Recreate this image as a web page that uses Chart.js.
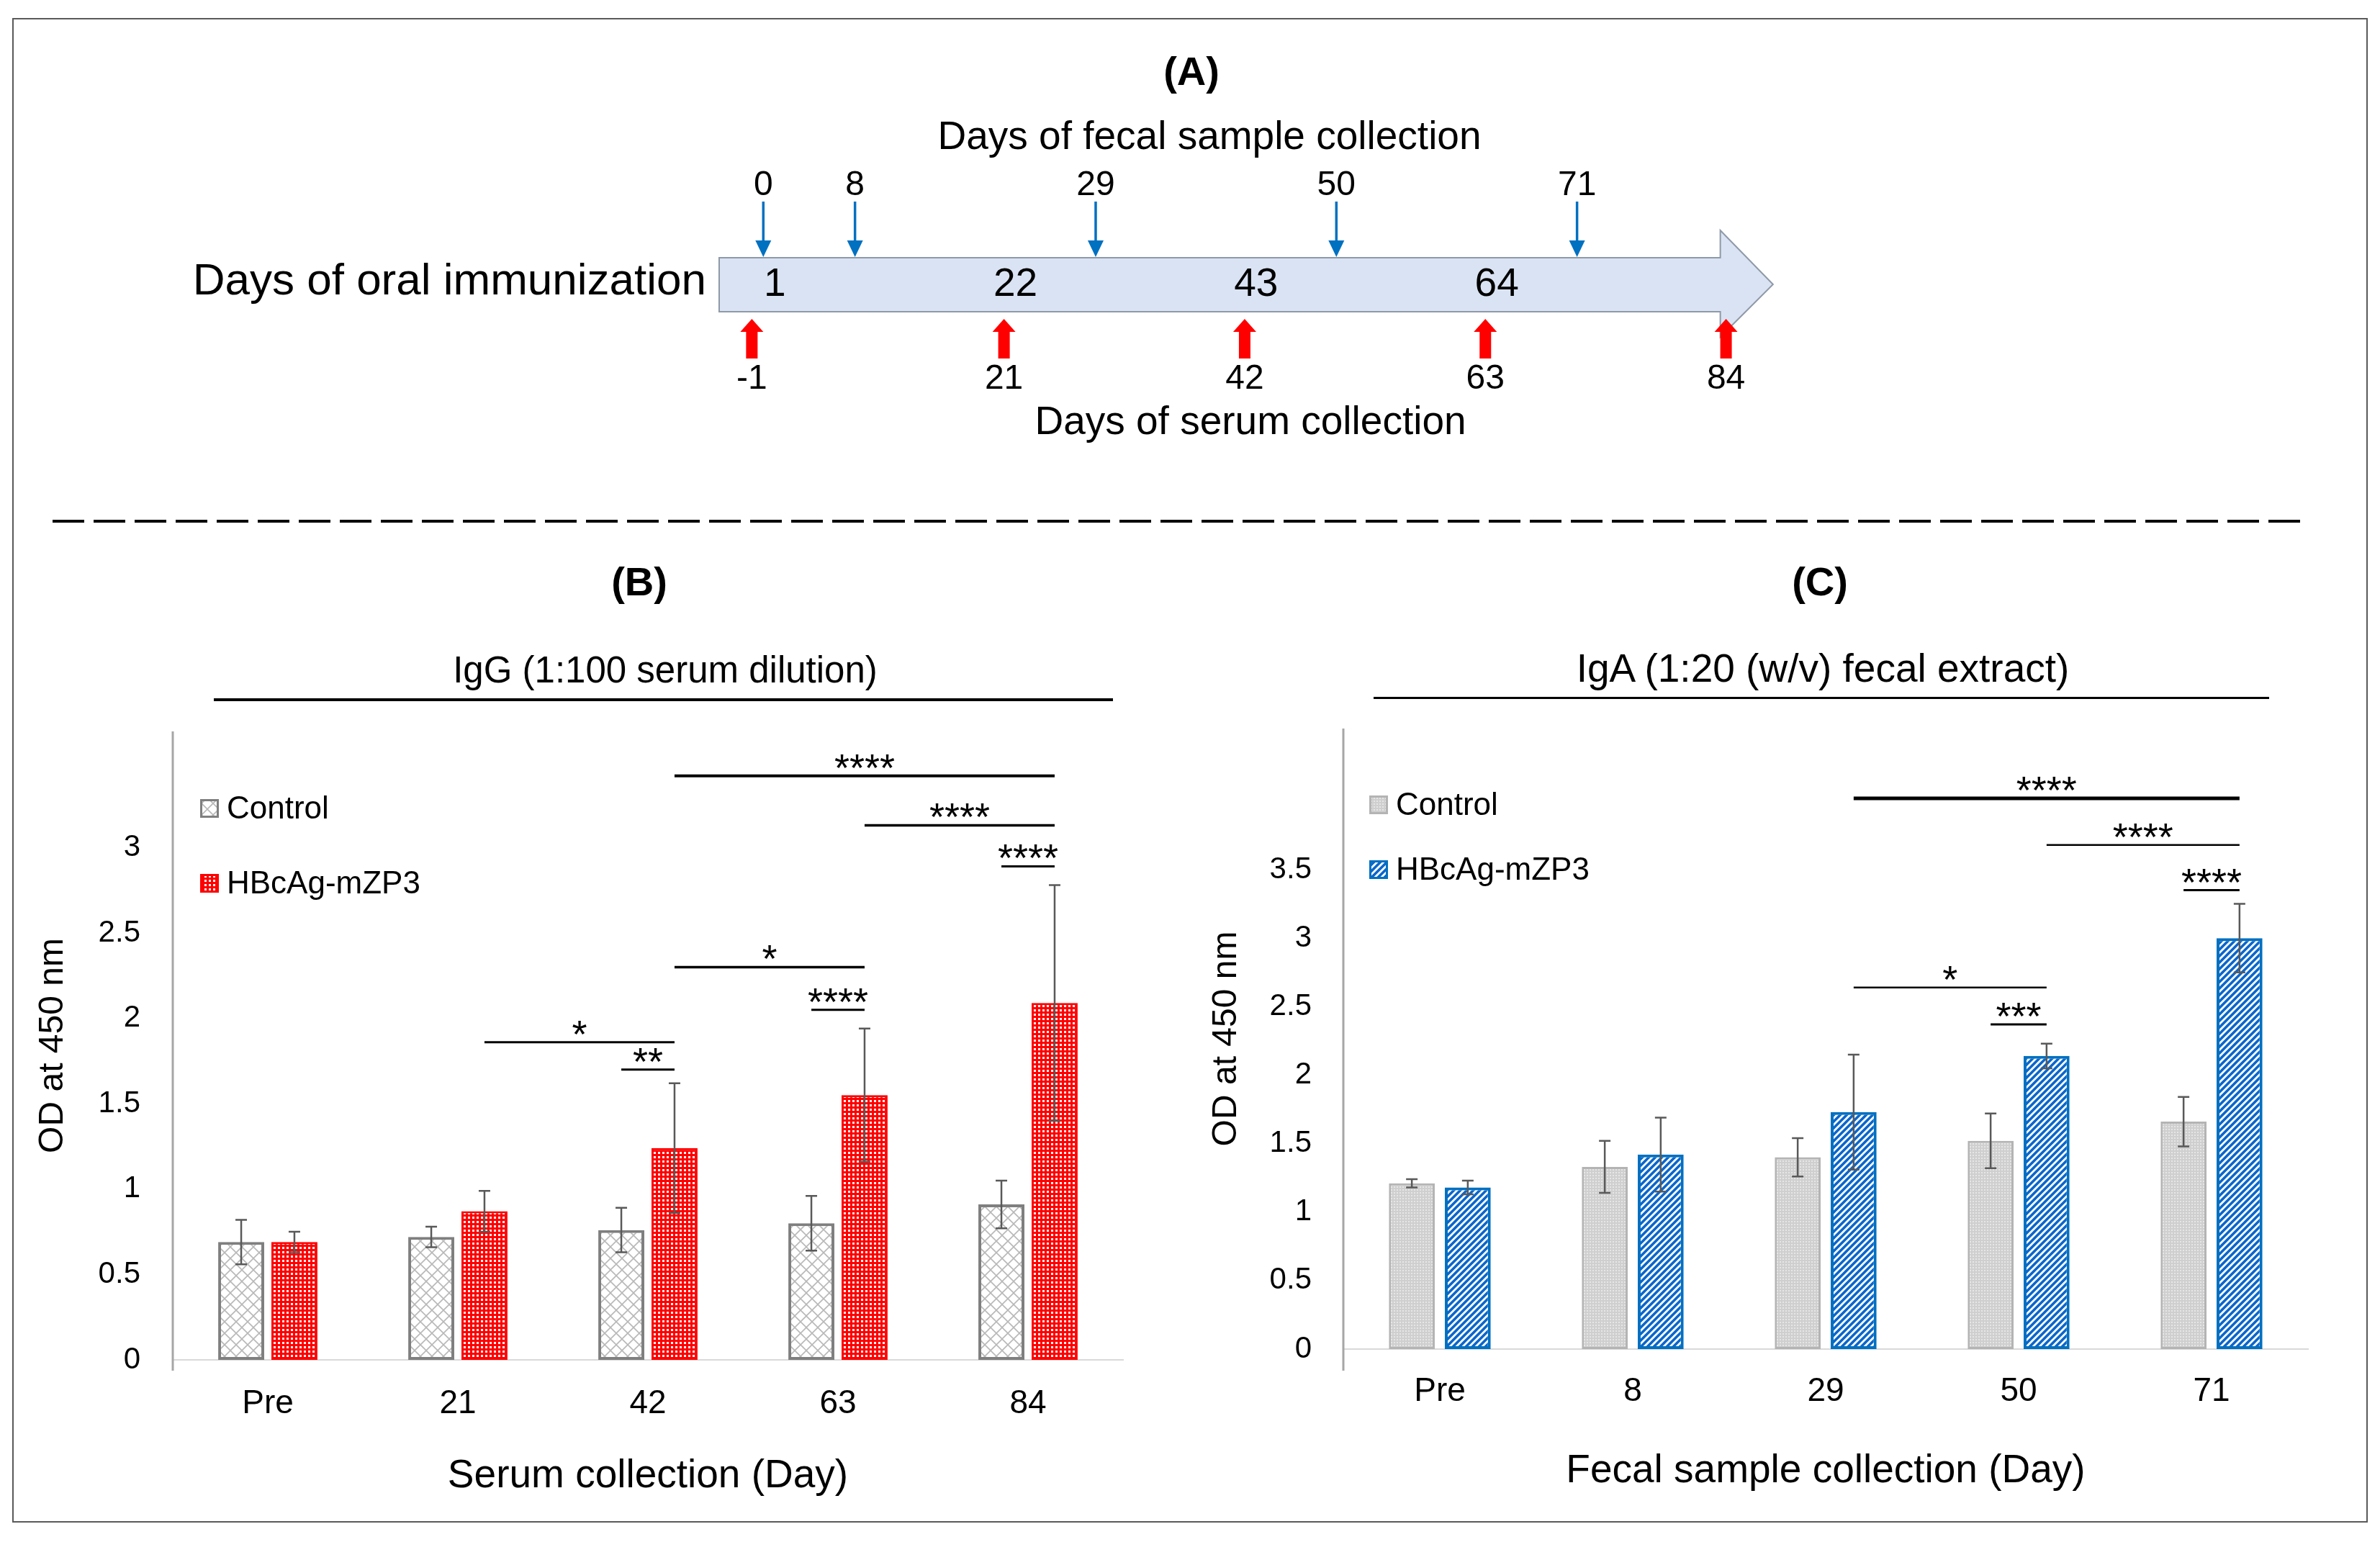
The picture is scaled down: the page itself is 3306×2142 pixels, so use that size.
<!DOCTYPE html>
<html>
<head>
<meta charset="utf-8">
<script src="https://cdn.jsdelivr.net/npm/chart.js@4.4.1/dist/chart.umd.min.js"></script>
<style>
  html, body { margin: 0; padding: 0; background: #fff; }
  body { width: 3306px; height: 2142px; position: relative; overflow: hidden; font-family: "Liberation Sans", Arial, sans-serif; color: #000; }
  .frame { position: absolute; left: 17px; top: 25px; width: 3268px; height: 2086px; border: 2px solid #5a5a5a; }
  .lbl { position: absolute; transform: translate(-50%, -50%); white-space: nowrap; line-height: 1; }
  .panel { font-weight: bold; font-size: 56px; }
  .rule { position: absolute; background: #000; }
  .dash { position: absolute; left: 73px; top: 722px; width: 3126px; height: 4px;
          background: repeating-linear-gradient(to right, #000 0 44px, transparent 44px 57px); }
  canvas { position: absolute; }
</style>
</head>
<body>
<div class="frame"></div>

<div class="lbl panel" style="left:1655px; top:99px;">(A)</div>
<div class="dash"></div>
<div class="lbl panel" style="left:888px; top:808px;">(B)</div>
<div class="lbl panel" style="left:2528px; top:808px;">(C)</div>
<div class="lbl" style="left:924px; top:930px; font-size:51px;">IgG (1:100 serum dilution)</div>
<div class="lbl" style="left:2532px; top:928px; font-size:55px;">IgA (1:20 (w/v) fecal extract)</div>
<div class="rule" style="left:297px; top:970px; width:1249px; height:4px;"></div>
<div class="rule" style="left:1908px; top:968px; width:1244px; height:3px;"></div>

<canvas id="schedule" width="3306" height="700" style="left:0; top:0; width:3306px; height:700px;"></canvas>
<canvas id="igg" width="1640" height="1130" style="left:0; top:980px; width:1640px; height:1130px;"></canvas>
<canvas id="iga" width="1645" height="1130" style="left:1640px; top:980px; width:1645px; height:1130px;"></canvas>

<script>
const FONT = '"Liberation Sans", Arial, sans-serif'

// (A) schedule, in days
const immunizationDays = [1, 22, 43, 64]
const fecalCollectionDays = [0, 8, 29, 50, 71]
const serumCollectionDays = [-1, 21, 42, 63, 84]

// (B) IgG, 1:100 serum dilution
const serumLabels = ['Pre', '21', '42', '63', '84']
const iggControl = [0.69, 0.72, 0.76, 0.80, 0.91]
const iggControlSd = [0.13, 0.06, 0.13, 0.16, 0.14]
const iggVaccine = [0.69, 0.87, 1.24, 1.55, 2.09]
const iggVaccineSd = [0.06, 0.12, 0.38, 0.39, 0.69]
// [category, series] -> [category, series], bracket height, stars
const iggBrackets = [
    { from: [2, 1], to: [4, 1], y: 3.42, text: '****', w: 4 },
    { from: [3, 1], to: [4, 1], y: 3.13, text: '****', w: 3.5 },
    { from: [4, 0], to: [4, 1], y: 2.89, text: '****', w: 3 },
    { from: [2, 1], to: [3, 1], y: 2.30, text: '*', w: 3.5 },
    { from: [3, 0], to: [3, 1], y: 2.05, text: '****', w: 3 },
    { from: [1, 1], to: [2, 1], y: 1.86, text: '*', w: 3 },
    { from: [2, 0], to: [2, 1], y: 1.70, text: '**', w: 3 }
]

// (C) IgA, 1:20 (w/v) fecal extract
const fecalLabels = ['Pre', '8', '29', '50', '71']
const igaControl = [1.21, 1.33, 1.40, 1.52, 1.66]
const igaControlSd = [0.03, 0.19, 0.14, 0.20, 0.18]
const igaVaccine = [1.18, 1.42, 1.73, 2.14, 3.00]
const igaVaccineSd = [0.05, 0.27, 0.42, 0.09, 0.25]
const igaBrackets = [
    { from: [2, 1], to: [4, 1], y: 4.02, text: '****', w: 5 },
    { from: [3, 1], to: [4, 1], y: 3.68, text: '****', w: 2.5 },
    { from: [4, 0], to: [4, 1], y: 3.35, text: '****', w: 3 },
    { from: [2, 1], to: [3, 1], y: 2.64, text: '*', w: 2.5 },
    { from: [3, 0], to: [3, 1], y: 2.37, text: '***', w: 3 }
]

function makePattern(size, draw){
    const c = document.createElement('canvas')
    c.width = size
    c.height = size
    const g = c.getContext('2d')
    draw(g, size)
    return g.createPattern(c, 'repeat')
}

const crossHatch = makePattern(16, (g, s) => {
    g.fillStyle = '#fff'
    g.fillRect(0, 0, s, s)
    g.strokeStyle = '#b8b8b8'
    g.lineWidth = 1.6
    g.beginPath()
    g.moveTo(0, 0); g.lineTo(s, s)
    g.moveTo(s, 0); g.lineTo(0, s)
    g.stroke()
})
const redDots = makePattern(6, (g, s) => {
    g.fillStyle = '#ff0000'
    g.fillRect(0, 0, s, s)
    g.fillStyle = '#fff'
    g.fillRect(2, 2, 3, 3)
})
const grayDots = makePattern(4, (g, s) => {
    g.fillStyle = '#cfcfcf'
    g.fillRect(0, 0, s, s)
    g.fillStyle = '#e6e6e6'
    g.fillRect(0, 0, 2, 2)
})
const blueStripes = makePattern(9, (g, s) => {
    g.fillStyle = '#fff'
    g.fillRect(0, 0, s, s)
    g.strokeStyle = '#0a66cc'
    g.lineWidth = 3.6
    g.beginPath()
    for (let k = 0; k <= 2; k++) {
        g.moveTo(k * s + 1, -1)
        g.lineTo(-1, k * s + 1)
    }
    g.stroke()
})

// ---------- (A) schedule ----------
const schedulePlugin = {
    id: 'schedule',
    afterDraw(chart){
        const ctx = chart.ctx
        const px = d => chart.scales.x.getPixelForValue(d)
        ctx.save()

        // big timeline arrow
        const x0 = px(-3.85), x1 = px(83.5), x2 = px(88.1)
        ctx.beginPath()
        ctx.moveTo(x0, 358); ctx.lineTo(x1, 358); ctx.lineTo(x1, 320)
        ctx.lineTo(x2, 395); ctx.lineTo(x1, 468); ctx.lineTo(x1, 433)
        ctx.lineTo(x0, 433); ctx.closePath()
        ctx.fillStyle = '#dae3f3'
        ctx.fill()
        ctx.strokeStyle = '#8f9aa8'
        ctx.lineWidth = 2
        ctx.stroke()

        ctx.fillStyle = '#000'
        ctx.textAlign = 'center'
        ctx.textBaseline = 'middle'
        ctx.font = '55px ' + FONT
        ctx.fillText('Days of fecal sample collection', 1680, 192)
        ctx.fillText('Days of serum collection', 1737, 588)
        immunizationDays.forEach(d => ctx.fillText(String(d), px(d), 396))
        ctx.textAlign = 'right'
        ctx.font = '62px ' + FONT
        ctx.fillText('Days of oral immunization', x0 - 18, 392)

        // fecal sampling: thin blue arrows down
        ctx.textAlign = 'center'
        ctx.font = '48px ' + FONT
        fecalCollectionDays.forEach(d => {
            const cx = px(d)
            ctx.strokeStyle = '#0070c0'
            ctx.fillStyle = '#0070c0'
            ctx.lineWidth = 3.5
            ctx.beginPath(); ctx.moveTo(cx, 280); ctx.lineTo(cx, 340); ctx.stroke()
            ctx.beginPath(); ctx.moveTo(cx - 11, 334); ctx.lineTo(cx + 11, 334); ctx.lineTo(cx, 357); ctx.closePath(); ctx.fill()
            ctx.fillStyle = '#000'
            ctx.fillText(String(d), cx, 258)
        })

        // serum sampling: thick red arrows up
        serumCollectionDays.forEach(d => {
            const cx = px(d)
            ctx.fillStyle = '#ff0000'
            ctx.fillRect(cx - 8, 459, 16, 39)
            ctx.beginPath(); ctx.moveTo(cx - 16, 461); ctx.lineTo(cx + 16, 461); ctx.lineTo(cx, 443); ctx.closePath(); ctx.fill()
            ctx.fillStyle = '#000'
            ctx.fillText(String(d), cx, 527)
        })
        ctx.restore()
    }
}

new Chart(document.getElementById('schedule'), {
    type: 'scatter',
    data: {
        datasets: [
            { data: immunizationDays.map(d => ({ x: d, y: 0.5 })), pointRadius: 0 },
            { data: fecalCollectionDays.map(d => ({ x: d, y: 0.7 })), pointRadius: 0 },
            { data: serumCollectionDays.map(d => ({ x: d, y: 0.3 })), pointRadius: 0 }
        ]
    },
    options: {
        responsive: false, animation: false, devicePixelRatio: 1,
        layout: { padding: 0 },
        plugins: { legend: { display: false }, tooltip: { enabled: false } },
        scales: {
            x: { type: 'linear', min: -66.6, max: 141.06, display: false },
            y: { min: 0, max: 1, display: false }
        }
    },
    plugins: [schedulePlugin]
})

// ---------- (B), (C) bar charts ----------
function makeBarChart(id, p){
    const errorBars = {
        id: 'errorBars',
        afterDatasetsDraw(chart){
            const ctx = chart.ctx
            const y = chart.scales.y
            ctx.save()
            ctx.strokeStyle = '#595959'
            ctx.lineWidth = 2.5
            p.series.forEach((s, i) => {
                chart.getDatasetMeta(i).data.forEach((bar, j) => {
                    const top = y.getPixelForValue(s.values[j] + s.sd[j])
                    const bot = y.getPixelForValue(s.values[j] - s.sd[j])
                    ctx.beginPath()
                    ctx.moveTo(bar.x, top); ctx.lineTo(bar.x, bot)
                    ctx.moveTo(bar.x - 8, top); ctx.lineTo(bar.x + 8, top)
                    ctx.moveTo(bar.x - 8, bot); ctx.lineTo(bar.x + 8, bot)
                    ctx.stroke()
                })
            })

            // significance brackets
            ctx.strokeStyle = '#000'
            ctx.fillStyle = '#000'
            ctx.font = '54px ' + FONT
            ctx.textAlign = 'center'
            ctx.textBaseline = 'alphabetic'
            p.brackets.forEach(b => {
                const xa = chart.getDatasetMeta(b.from[1]).data[b.from[0]].x
                const xb = chart.getDatasetMeta(b.to[1]).data[b.to[0]].x
                const py = y.getPixelForValue(b.y)
                ctx.lineWidth = b.w
                ctx.beginPath(); ctx.moveTo(xa, py); ctx.lineTo(xb, py); ctx.stroke()
                ctx.fillText(b.text, (xa + xb) / 2, py + 7)
            })

            // y axis line, running a little below zero
            const a = chart.chartArea
            ctx.strokeStyle = '#a6a6a6'
            ctx.lineWidth = 3
            ctx.beginPath(); ctx.moveTo(a.left, a.top); ctx.lineTo(a.left, a.bottom + p.axisExt); ctx.stroke()

            // legend
            ctx.font = '44px ' + FONT
            ctx.textAlign = 'left'
            ctx.textBaseline = 'middle'
            p.series.forEach((s, i) => {
                const cy = a.top + p.legendRows[i]
                const lx = a.left + p.legendX
                ctx.fillStyle = s.fill
                ctx.fillRect(lx, cy - 13, 26, 26)
                ctx.strokeStyle = s.border
                ctx.lineWidth = 3
                ctx.strokeRect(lx + 1.5, cy - 11.5, 23, 23)
                ctx.fillStyle = '#000'
                ctx.fillText(s.label, lx + 37, cy + 2)
            })
            ctx.restore()
        }
    }

    return new Chart(document.getElementById(id), {
        type: 'bar',
        data: {
            labels: p.labels,
            datasets: p.series.map(s => ({
                label: s.label,
                data: s.values,
                backgroundColor: s.fill,
                borderColor: s.border,
                borderWidth: s.borderWidth,
                borderSkipped: false,
                categoryPercentage: p.cat,
                barPercentage: p.bar
            }))
        },
        options: {
            responsive: false, animation: false, devicePixelRatio: 1,
            layout: { padding: { top: p.padTop, right: p.padRight, left: 0, bottom: 0 } },
            plugins: { legend: { display: false }, tooltip: { enabled: false } },
            scales: {
                x: {
                    grid: { display: false, drawTicks: false },
                    border: { color: '#d9d9d9', width: 2 },
                    ticks: { font: { size: 46, family: FONT }, color: '#000', padding: p.xTickPad },
                    title: { display: true, text: p.xTitle, color: '#000', font: { size: 55, family: FONT },
                             padding: { top: 0, bottom: p.xTitlePad } },
                    afterFit: s => {
                        s.height = p.xHeight
                        s.paddingLeft = 0
                        s.paddingRight = 0
                    }
                },
                y: {
                    min: 0, max: p.yMax,
                    grid: { display: false, drawTicks: false },
                    border: { display: false },
                    ticks: { stepSize: 0.5, includeBounds: false, font: { size: 42, family: FONT }, color: '#000',
                             padding: p.yTickPad, callback: v => v > p.yLabelMax + 1e-6 ? '' : v },
                    title: { display: true, text: 'OD at 450 nm', color: '#000', font: { size: 48, family: FONT },
                             padding: { top: p.yTitlePad, bottom: 0 } },
                    afterFit: s => {
                        s.width = p.yWidth
                        s.paddingTop = 0
                        s.paddingBottom = 0
                    }
                }
            }
        },
        plugins: [errorBars]
    })
}

makeBarChart('igg', {
    labels: serumLabels,
    series: [
        { label: 'Control', values: iggControl, sd: iggControlSd, fill: crossHatch, border: '#7f7f7f', borderWidth: 4 },
        { label: 'HBcAg-mZP3', values: iggVaccine, sd: iggVaccineSd, fill: redDots, border: '#ff0000', borderWidth: 3 }
    ],
    brackets: iggBrackets,
    xTitle: 'Serum collection (Day)',
    yMax: 3.68, yLabelMax: 3,
    cat: 0.56, bar: 0.865,
    padTop: 36, padRight: 80, yWidth: 240, xHeight: 221,
    xTickPad: 34, xTitlePad: 26, yTickPad: 45, yTitlePad: 45,
    axisExt: 15, legendX: 38, legendRows: [107, 211]
})

makeBarChart('iga', {
    labels: fecalLabels,
    series: [
        { label: 'Control', values: igaControl, sd: igaControlSd, fill: grayDots, border: '#b4b4b4', borderWidth: 3 },
        { label: 'HBcAg-mZP3', values: igaVaccine, sd: igaVaccineSd, fill: blueStripes, border: '#0070c0', borderWidth: 4 }
    ],
    brackets: igaBrackets,
    xTitle: 'Fecal sample collection (Day)',
    yMax: 4.53, yLabelMax: 3.5,
    cat: 0.58, bar: 0.82,
    padTop: 32, padRight: 79, yWidth: 226, xHeight: 236,
    xTickPad: 32, xTitlePad: 33, yTickPad: 44, yTitlePad: 35,
    axisExt: 30, legendX: 36, legendRows: [106, 196]
})
</script>
</body>
</html>
